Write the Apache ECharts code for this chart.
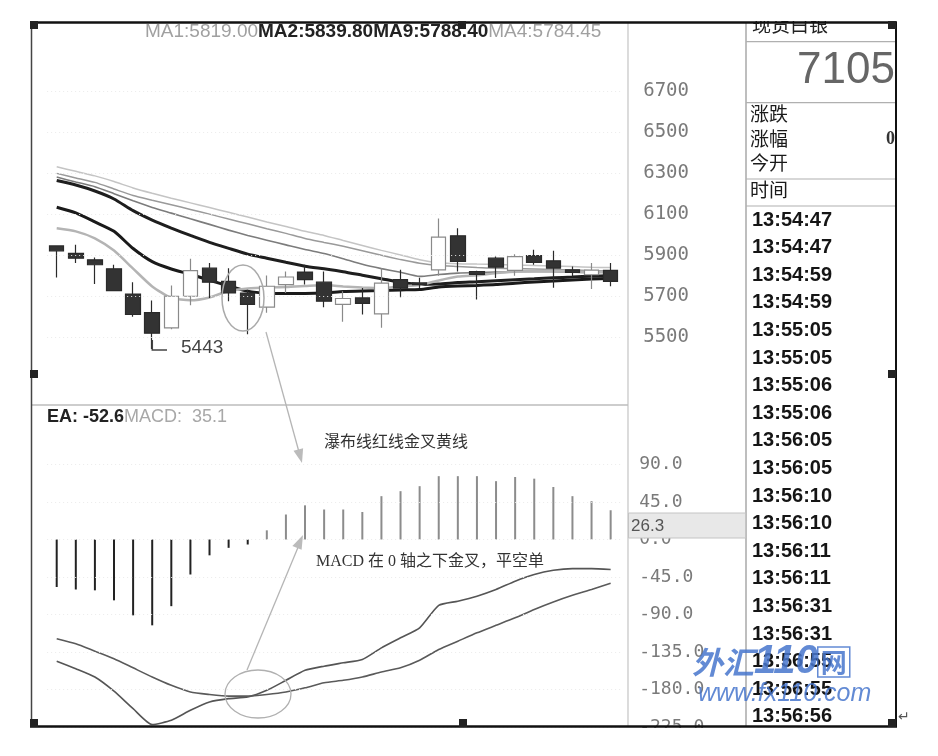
<!DOCTYPE html>
<html>
<head>
<meta charset="utf-8">
<script src="https://cdn.jsdelivr.net/npm/echarts@6/dist/echarts.min.js"></script>
<style>
html,body{margin:0;padding:0;background:#fff;}
#c{width:938px;height:756px;}
</style>
</head>
<body>
<div id="c"></div>
<script>
// ---------- data ----------
const categories = ['K1','K2','K3','K4','K5','K6','K7','K8','K9','K10','K11','K12','K13','K14','K15','K16','K17','K18','K19','K20','K21','K22','K23','K24','K25','K26','K27','K28','K29','K30'];
const openP  = [5946,5909,5878,5834,5711,5620,5546,5700,5837,5773,5716,5647,5757,5818,5769,5660,5692,5614,5781,5765,5829,5995,5821,5886,5826,5898,5873,5829,5805,5826];
const closeP = [5922,5886,5854,5728,5611,5520,5700,5825,5769,5716,5660,5749,5794,5781,5676,5689,5665,5764,5740,5757,5989,5870,5807,5842,5894,5865,5837,5816,5828,5773];
const lowP   = [5792,5862,5760,5724,5600,5443,5539,5656,5692,5676,5514,5619,5716,5757,5646,5575,5611,5546,5695,5740,5800,5821,5684,5789,5800,5854,5742,5797,5735,5749];
const highP  = [5946,5951,5889,5854,5769,5679,5753,5883,5862,5837,5732,5802,5821,5854,5821,5724,5740,5837,5830,5790,6080,6032,5825,5894,5905,5927,5922,5845,5862,5862];

const maA = [6032,6017,5983,5923,5835,5748,5692,5680,5694,5726,5738,5743,5745,5750,5755,5748,5743,5740,5748,5755,5777,5796,5803,5813,5820,5825,5823,5820,5818,5819];
const maB = [6135,6107,6063,6017,5933,5869,5833,5807,5778,5750,5725,5715,5714,5714,5716,5723,5726,5728,5731,5733,5745,5750,5753,5757,5764,5770,5775,5780,5784,5788];
const maC = [6265,6243,6214,6175,6118,6072,6033,5997,5963,5934,5906,5886,5866,5847,5834,5820,5803,5786,5768,5758,5760,5767,5771,5776,5781,5785,5790,5794,5798,5801];
const maD = [6282,6258,6235,6201,6166,6134,6106,6078,6051,6023,5997,5974,5951,5928,5909,5883,5856,5835,5817,5797,5806,5813,5816,5818,5820,5820,5820,5818,5816,5816];
const maE = [6300,6278,6256,6224,6192,6169,6147,6124,6101,6077,6054,6030,6007,5982,5963,5944,5922,5900,5879,5861,5850,5845,5840,5837,5835,5833,5830,5828,5825,5823];
const maF = [6332,6310,6288,6260,6229,6203,6179,6156,6133,6110,6087,6063,6041,6017,5997,5972,5948,5924,5902,5878,5864,5859,5857,5855,5852,5850,5847,5845,5842,5840];

const macdHist = [-57,-60,-61,-73,-91,-103,-80,-42,-19,-10,-6,11,30,41,36,36,33,52,58,64,76,76,76,70,75,73,63,52,46,35.1];
const dif = [-146,-155,-165,-182,-203,-222,-217,-205,-195,-191,-189,-181,-169,-157,-152,-148,-144,-130,-118,-106,-79,-74,-68,-60,-50,-42,-37,-35,-35,-36];
const dea = [-119,-125,-134,-143,-154,-165,-175,-183,-186,-188,-188,-186,-183,-178,-172,-169,-165,-159,-154,-145,-132,-122,-112,-103,-94,-84,-75,-67,-60,-52.6];

const priceTicks = [5500,5700,5900,6100,6300,6500,6700];
const macdTicks = [90,45,0,-45,-90,-135,-180,-225];

const maNames = ['MA1','MA2','MA9','MA4'];
const maValues = ['5819.00','5839.80','5788.40','5784.45'];
const macdLegendNames = ['EA','MACD'];
const macdLegendValues = ['-52.6','35.1'];

const panelTitle = '现货白银';
const panelPrice = '7105';
const panelRows = ['涨跌','涨幅','今开'];
const panelTimeTitle = '时间';
const timeList = ['13:54:47','13:54:47','13:54:59','13:54:59','13:55:05','13:55:05','13:55:06','13:55:06','13:56:05','13:56:05','13:56:10','13:56:10','13:56:11','13:56:11','13:56:31','13:56:31','13:56:55','13:56:55','13:56:56'];

const lowLabel = '5443';
const note1 = '瀑布线红线金叉黄线';
const note2 = 'MACD 在 0 轴之下金叉，平空单';
const macdBoxValue = '26.3';

// ---------- chart ----------
const chart = echarts.init(document.getElementById('c'), null, {renderer: 'canvas'});

const gridLeft = 47.15, gridWidth = 573.05;
const faint = {color: '#ebebeb', type: [1, 3], width: 1};

function txt(x, y, text, font, fill, align, vAlign, z) {
  return {type: 'text', x: x, y: y, z: z || 30, silent: true,
    style: {text: text, font: font, fill: fill,
      textAlign: align || 'left', align: align || 'left',
      textVerticalAlign: vAlign || 'middle', verticalAlign: vAlign || 'middle'}};
}
function line(x1, y1, x2, y2, stroke, w, z) {
  return {type: 'line', z: z || 30, silent: true, shape: {x1: x1, y1: y1, x2: x2, y2: y2}, style: {stroke: stroke, lineWidth: w}};
}

const graphics = [];
// masks outside the screenshot
graphics.push({type: 'rect', z: 50, silent: true, shape: {x: 0, y: 0, width: 938, height: 21}, style: {fill: '#fff'}});
graphics.push({type: 'rect', z: 50, silent: true, shape: {x: 0, y: 728, width: 938, height: 28}, style: {fill: '#fff'}});
// separators
graphics.push(line(628, 22, 628, 727, '#c4c4c4', 1.2, 5));
graphics.push(line(746, 22, 746, 727, '#a8a8a8', 1.5, 5));
graphics.push(line(31, 405, 628, 405, '#bdbdbd', 1.5, 5));
[41.7, 102.7, 179, 206].forEach(function (yy) { graphics.push(line(746, yy, 896, yy, '#b0b0b0', 1.2, 5)); });

// right panel texts
graphics.push(txt(752, 25, panelTitle, '19px "Noto Sans CJK SC"', '#222', 'left', 'middle', 40));
graphics.push(txt(797, 71, panelPrice, '44px "Liberation Sans"', '#666', 'left', 'middle', 30));
panelRows.forEach(function (t, i) {
  graphics.push(txt(750, 114 + i * 24.5, t, '19px "Noto Sans CJK SC"', '#1a1a1a', 'left', 'middle', 30));
});
graphics.push(txt(895, 139, '0', 'bold 18px "Liberation Serif"', '#333', 'right', 'middle', 30));
graphics.push(txt(750, 190, panelTimeTitle, '19px "Noto Sans CJK SC"', '#1a1a1a', 'left', 'middle', 30));
timeList.forEach(function (t, i) {
  graphics.push(txt(752, 220 + i * 27.6, t, 'bold 20px "Liberation Sans"', '#151515', 'left', 'middle', 30));
});

// legends
graphics.push({type: 'text', x: 145, y: 32, z: 30, silent: true, style: {
  text: maNames.map(function (n, i) { return '{' + ((i === 0 || i === 3) ? 'g' : 'k') + '|' + n + ':' + maValues[i] + '}'; }).join(''),
  verticalAlign: 'middle', textVerticalAlign: 'middle',
  rich: {
    g: {fontSize: 19, fontFamily: 'Liberation Sans', fill: '#a0a0a0', color: '#a0a0a0'},
    k: {fontSize: 19, fontFamily: 'Liberation Sans', fontWeight: 'bold', fill: '#222', color: '#222'}
  }}});
graphics.push({type: 'text', x: 47, y: 417, z: 30, silent: true, style: {
  text: '{k|' + macdLegendNames[0] + ': ' + macdLegendValues[0] + '}{g|' + macdLegendNames[1] + ':  ' + macdLegendValues[1] + '}',
  verticalAlign: 'middle', textVerticalAlign: 'middle',
  rich: {
    g: {fontSize: 18, fontFamily: 'Liberation Sans', fill: '#a8a8a8', color: '#a8a8a8'},
    k: {fontSize: 18, fontFamily: 'Liberation Sans', fontWeight: 'bold', fill: '#222', color: '#222'}
  }}});

// low marker (wick extension)
graphics.push({type: 'polyline', z: 30, silent: true, shape: {points: [[152.3, 340], [152.3, 350], [167, 350]]}, style: {stroke: '#444', lineWidth: 1.5, fill: null}});
graphics.push(txt(181, 348, lowLabel, '19px "Liberation Sans"', '#444', 'left', 'middle', 30));

// annotations
graphics.push({type: 'ellipse', z: 30, silent: true, shape: {cx: 243, cy: 298, rx: 21, ry: 33}, style: {stroke: '#aaa', lineWidth: 1.5, fill: null}});
graphics.push(line(266, 332, 299, 452, '#b5b5b5', 1.3, 30));
graphics.push({type: 'polygon', z: 30, silent: true, shape: {points: [[302, 463], [303.1, 448.2], [293.5, 450.8]]}, style: {fill: '#bbb'}});
graphics.push(txt(324, 441, note1, '16px "Noto Sans CJK SC"', '#333', 'left', 'middle', 30));
graphics.push(txt(316, 562, note2, '16px "Liberation Serif", "Noto Sans CJK SC"', '#333', 'left', 'middle', 30));
graphics.push({type: 'ellipse', z: 30, silent: true, shape: {cx: 258, cy: 694, rx: 33, ry: 24}, style: {stroke: '#b0b0b0', lineWidth: 1.3, fill: null}});
graphics.push(line(247, 670, 299, 545, '#b5b5b5', 1.3, 30));
graphics.push({type: 'polygon', z: 30, silent: true, shape: {points: [[303, 535], [301.6, 549.8], [292.4, 546]]}, style: {fill: '#bbb'}});

// value box on MACD axis
graphics.push({type: 'rect', z: 35, silent: true, shape: {x: 628.5, y: 513, width: 117, height: 25}, style: {fill: '#e8e8e8', stroke: '#c4c4c4', lineWidth: 1}});
graphics.push(txt(631, 526, macdBoxValue, '17px "Liberation Sans"', '#555', 'left', 'middle', 36));

// watermark
graphics.push({type: 'text', x: 692, y: 662, z: 70, silent: true, style: {
  text: '{a|外汇}{b|110}{c|网}', verticalAlign: 'middle', textVerticalAlign: 'middle',
  rich: {
    a: {fontSize: 31, fontFamily: 'Noto Sans CJK SC', fontWeight: 'bold', fontStyle: 'italic', fill: 'rgba(70,118,205,0.85)', color: 'rgba(70,118,205,0.85)'},
    b: {fontSize: 40, fontFamily: 'Liberation Sans', fontWeight: 'bold', fontStyle: 'italic', fill: 'rgba(70,118,205,0.85)', color: 'rgba(70,118,205,0.85)'},
    c: {fontSize: 26, fontFamily: 'Noto Sans CJK SC', fontWeight: 'bold', fill: 'rgba(70,118,205,0.85)', color: 'rgba(70,118,205,0.85)', borderColor: 'rgba(70,118,205,0.85)', borderWidth: 1.5, padding: [2, 3, 2, 3]}
  }}});
graphics.push(txt(698, 694, 'www.fx110.com', 'italic 25px "Liberation Sans"', 'rgba(70,118,205,0.85)', 'left', 'middle', 70));

// frame and handles
graphics.push(line(30, 22.5, 897, 22.5, '#111', 2.5, 60));
graphics.push(line(30, 726.5, 897, 726.5, '#111', 2.5, 60));
graphics.push(line(31.5, 22, 31.5, 727, '#444', 1.5, 60));
graphics.push(line(896, 22, 896, 727, '#111', 2, 60));
[[30, 21], [458, 21], [888, 21], [30, 370], [888, 370], [30, 719], [459, 719], [888, 719]].forEach(function (p) {
  graphics.push({type: 'rect', z: 61, silent: true, shape: {x: p[0], y: p[1], width: 8, height: 8}, style: {fill: '#222'}});
});
graphics.push(txt(898, 717, '↵', '14px "DejaVu Sans"', '#555', 'left', 'middle', 61));

function maSeries(name, data, color, width) {
  return {name: name, type: 'line', xAxisIndex: 0, yAxisIndex: 0, data: data, symbol: 'none', smooth: 0.2,
    z: 2, lineStyle: {color: color, width: width}, silent: true};
}

const option = {
  animation: false,
  backgroundColor: '#fff',
  grid: [
    {left: gridLeft, width: gridWidth, top: 71, height: 286.7},
    {left: gridLeft, width: gridWidth, top: 427, height: 300}
  ],
  xAxis: [
    {type: 'category', gridIndex: 0, data: categories, boundaryGap: true, show: false},
    {type: 'category', gridIndex: 1, data: categories, boundaryGap: true, show: false}
  ],
  yAxis: [
    {type: 'value', gridIndex: 0, position: 'right', min: 5400, max: 6800, interval: 100, scale: true,
      axisLine: {show: false}, axisTick: {show: false}, splitLine: {show: false},
      axisLabel: {margin: 23, color: '#7a7a7a', fontFamily: 'DejaVu Sans Mono', fontSize: 19,
        formatter: function (v) { return priceTicks.indexOf(v) >= 0 ? String(v) : ''; }}},
    {type: 'value', gridIndex: 1, position: 'right', min: -225, max: 135, interval: 45,
      axisLine: {show: false}, axisTick: {show: false}, splitLine: {show: false},
      axisLabel: {margin: 19, color: '#7a7a7a', fontFamily: 'DejaVu Sans Mono', fontSize: 18,
        showMinLabel: true, showMaxLabel: true,
        formatter: function (v) { return macdTicks.indexOf(v) >= 0 ? v.toFixed(1) : ''; }}}
  ],
  series: [
    maSeries('MA6', maF, '#c4c4c4', 1.5),
    maSeries('MA5', maE, '#9a9a9a', 1.5),
    maSeries('MA4', maD, '#7c7c7c', 1.6),
    maSeries('MA3', maC, '#1e1e1e', 3),
    maSeries('MA9', maB, '#1a1a1a', 3),
    maSeries('MA1', maA, '#b4b4b4', 2.5),
    {name: 'K', type: 'candlestick', xAxisIndex: 0, yAxisIndex: 0, z: 3, barWidth: 15, silent: true,
      data: openP.map(function (o, i) { return [o, closeP[i], lowP[i], highP[i]]; }),
      itemStyle: {color: '#ffffff', color0: '#333333', borderColor: '#8a8a8a', borderColor0: '#2a2a2a', borderWidth: 1.2},
      markLine: {silent: true, symbol: 'none', animation: false, label: {show: false}, lineStyle: faint,
        data: priceTicks.map(function (t) { return {yAxis: t}; })}},
    {name: 'MACD', type: 'bar', xAxisIndex: 1, yAxisIndex: 1, barWidth: 2, silent: true, z: 2,
      data: macdHist.map(function (v) { return {value: v, itemStyle: {color: v < 0 ? '#222' : '#8c8c8c'}}; }),
      markLine: {silent: true, symbol: 'none', animation: false, label: {show: false}, lineStyle: faint,
        data: macdTicks.map(function (t) { return {yAxis: t}; })}},
    {name: 'DIFF', type: 'line', xAxisIndex: 1, yAxisIndex: 1, data: dif, symbol: 'none', smooth: 0.2, silent: true, z: 3,
      lineStyle: {color: '#555', width: 1.6}},
    {name: 'DEA', type: 'line', xAxisIndex: 1, yAxisIndex: 1, data: dea, symbol: 'none', smooth: 0.2, silent: true, z: 3,
      lineStyle: {color: '#5a5a5a', width: 1.6}}
  ],
  graphic: graphics
};
chart.setOption(option);
</script>
</body>
</html>
